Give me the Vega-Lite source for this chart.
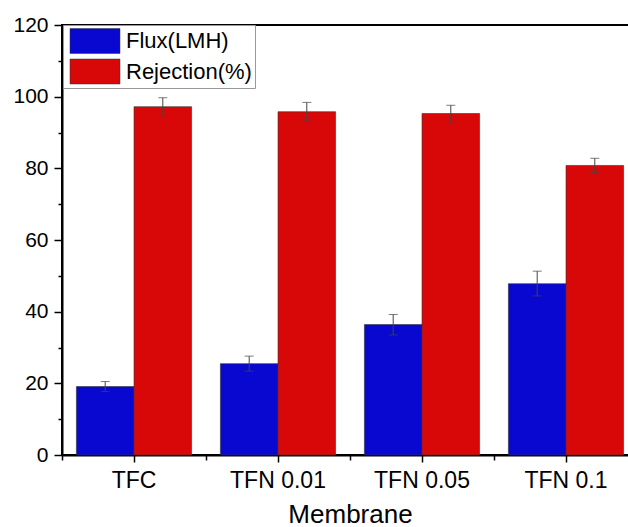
{
  "$schema": "https://vega.github.io/schema/vega-lite/v6.json",
  "width": 567,
  "height": 430,
  "autosize": {"type": "none"},
  "padding": {"left": 62, "top": 25, "right": 0, "bottom": 72},
  "background": "white",
  "config": {
    "font": "Liberation Sans",
    "view": {"stroke": "#000", "strokeWidth": 2},
    "legend": {"strokeWidth": 1},
    "axis": {
      "grid": false,
      "domainColor": "#000",
      "tickColor": "#000",
      "labelColor": "#000",
      "titleColor": "#000",
      "domainWidth": 2,
      "tickWidth": 1.5,
      "labelFont": "Liberation Sans",
      "titleFont": "Liberation Sans",
      "titleFontWeight": "normal"
    }
  },
  "data": {
    "values": [
      {"Membrane": "TFC", "series": "Flux(LMH)", "value": 19.1, "lo": 17.7, "hi": 20.5},
      {"Membrane": "TFC", "series": "Rejection(%)", "value": 97.2, "lo": 94.7, "hi": 99.7},
      {"Membrane": "TFN 0.01", "series": "Flux(LMH)", "value": 25.5, "lo": 23.4, "hi": 27.6},
      {"Membrane": "TFN 0.01", "series": "Rejection(%)", "value": 95.8, "lo": 93.2, "hi": 98.4},
      {"Membrane": "TFN 0.05", "series": "Flux(LMH)", "value": 36.4, "lo": 33.5, "hi": 39.2},
      {"Membrane": "TFN 0.05", "series": "Rejection(%)", "value": 95.3, "lo": 93.0, "hi": 97.6},
      {"Membrane": "TFN 0.1", "series": "Flux(LMH)", "value": 47.8, "lo": 44.4, "hi": 51.3},
      {"Membrane": "TFN 0.1", "series": "Rejection(%)", "value": 80.8, "lo": 78.8, "hi": 82.8}
    ]
  },
  "layer": [
    {
      "mark": {"type": "bar", "stroke": "#333", "strokeWidth": 0.6},
      "encoding": {
        "x": {
          "field": "Membrane", "type": "nominal",
          "sort": ["TFC", "TFN 0.01", "TFN 0.05", "TFN 0.1"],
          "scale": {"range": [0, 576], "paddingInner": 0, "paddingOuter": 0},
          "axis": {"orient": "bottom", "title": "Membrane", "labelAngle": 0, "labelFontSize": 23, "titleFontSize": 26, "tickSize": 7, "labelPadding": 7, "titlePadding": 9}
        },
        "xOffset": {
          "field": "series", "type": "nominal",
          "scale": {"paddingInner": 0, "paddingOuter": 0.25}
        },
        "y": {
          "field": "value", "type": "quantitative",
          "scale": {"domain": [0, 120], "nice": false},
          "axis": {"orient": "left", "values": [0, 20, 40, 60, 80, 100, 120], "title": null, "labelFontSize": 21, "tickSize": 8, "labelPadding": 6}
        },
        "color": {
          "field": "series", "type": "nominal",
          "scale": {"domain": ["Flux(LMH)", "Rejection(%)"], "range": ["#0808d0", "#d80808"]},
          "legend": {
            "orient": "none", "legendX": 1, "legendY": 0, "title": null,
            "strokeColor": "#999", "padding": 3, "fillColor": "white",
            "symbolType": "M-2,-1H2V1H-2Z", "symbolSize": 625, "symbolOffset": 16,
            "labelOffset": 18, "labelFontSize": 22, "labelColor": "#000", "rowPadding": 2.5,
            "symbolStrokeColor": "#333", "symbolStrokeWidth": 0.5, "symbolOpacity": 1, "labelLimit": 300
          }
        }
      }
    },
    {
      "mark": {"type": "rule", "color": "#444", "strokeWidth": 1},
      "encoding": {
        "x": {"field": "Membrane", "type": "nominal", "sort": ["TFC", "TFN 0.01", "TFN 0.05", "TFN 0.1"], "axis": null},
        "xOffset": {"field": "series", "type": "nominal"},
        "y": {"field": "lo", "type": "quantitative", "axis": null},
        "y2": {"field": "hi"}
      }
    },
    {
      "mark": {"type": "tick", "color": "#444", "size": 9, "thickness": 1},
      "encoding": {
        "x": {"field": "Membrane", "type": "nominal", "sort": ["TFC", "TFN 0.01", "TFN 0.05", "TFN 0.1"], "axis": null},
        "xOffset": {"field": "series", "type": "nominal"},
        "y": {"field": "hi", "type": "quantitative", "axis": null}
      }
    },
    {
      "mark": {"type": "tick", "color": "#444", "size": 9, "thickness": 1},
      "encoding": {
        "x": {"field": "Membrane", "type": "nominal", "sort": ["TFC", "TFN 0.01", "TFN 0.05", "TFN 0.1"], "axis": null},
        "xOffset": {"field": "series", "type": "nominal"},
        "y": {"field": "lo", "type": "quantitative", "axis": null}
      }
    },
    {
      "mark": {"type": "tick", "opacity": 0},
      "encoding": {
        "x": {"field": "Membrane", "type": "nominal", "sort": ["TFC", "TFN 0.01", "TFN 0.05", "TFN 0.1"],
              "axis": {"orient": "bottom", "bandPosition": 0, "labels": false, "domain": false, "tickSize": 5, "title": null}},
        "y": {"field": "value", "type": "quantitative",
              "axis": {"orient": "left", "values": [10, 30, 50, 70, 90, 110], "labels": false, "domain": false, "tickSize": 4, "title": null}}
      }
    }
  ],
  "resolve": {"axis": {"x": "independent", "y": "independent"}}
}
